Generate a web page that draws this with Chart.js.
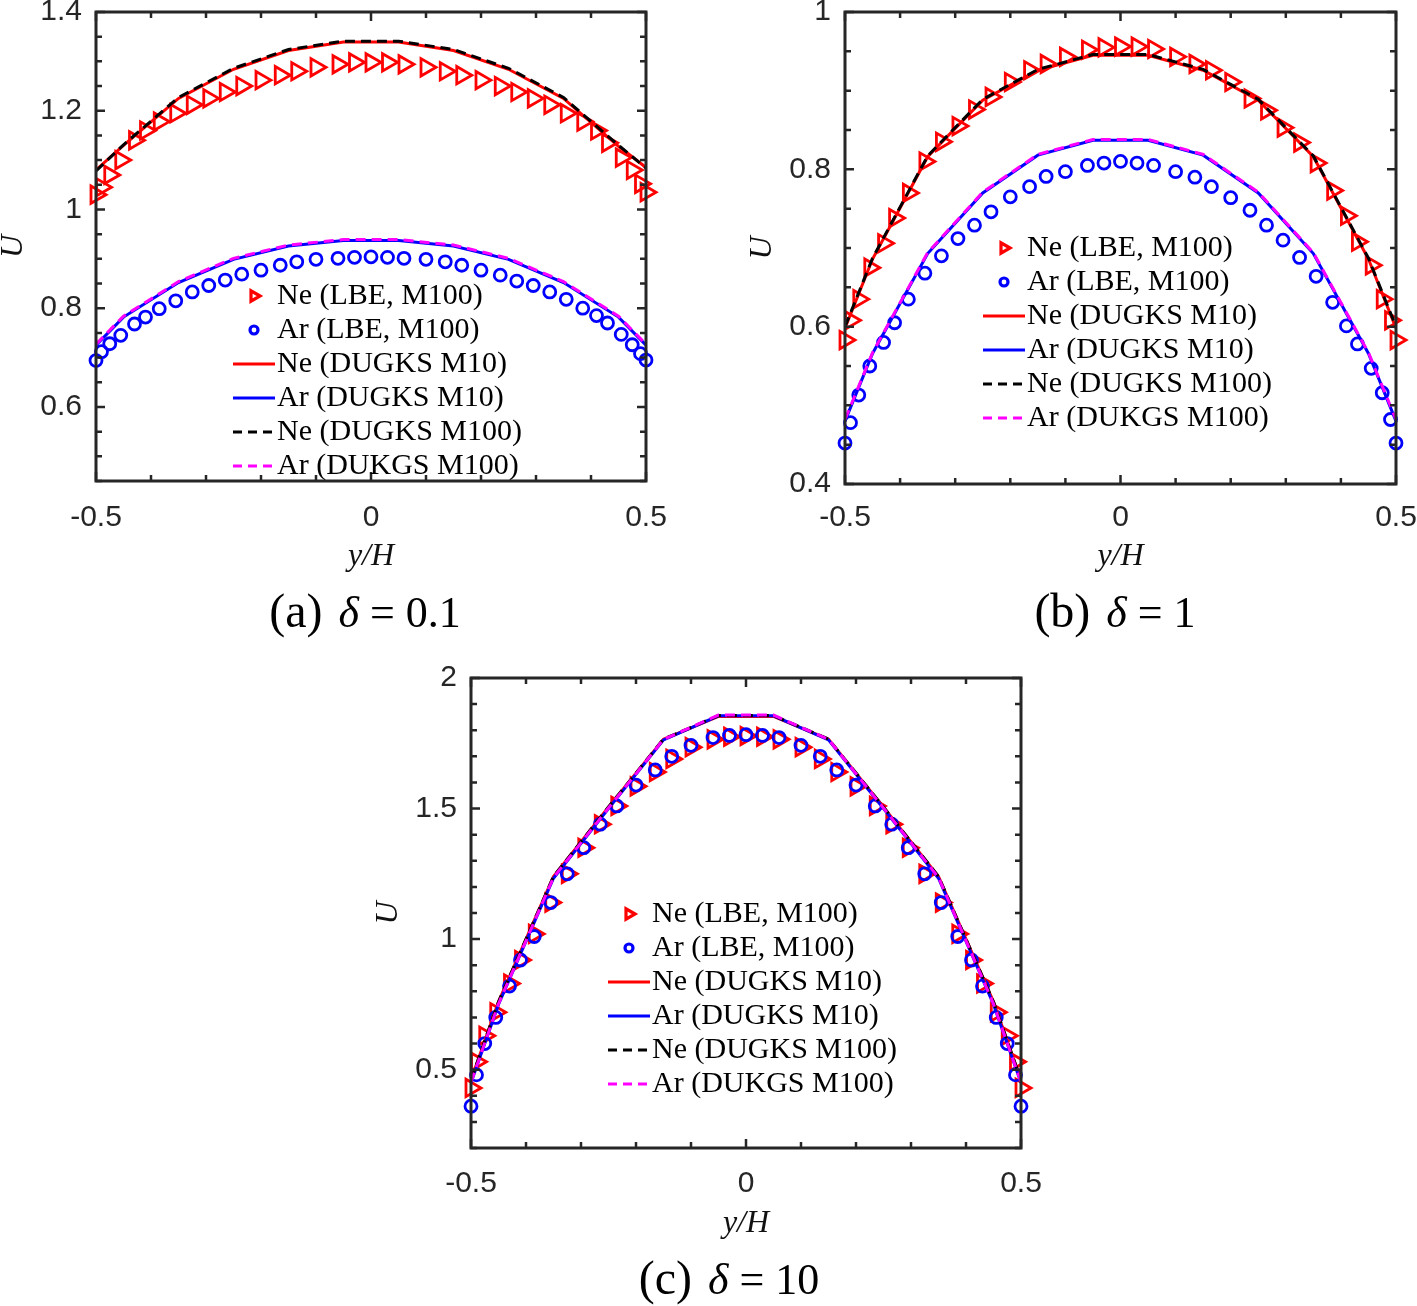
<!DOCTYPE html>
<html>
<head>
<meta charset="utf-8">
<script src="https://cdn.jsdelivr.net/npm/chart.js@4.4.1/dist/chart.umd.min.js"></script>
<style>
  body { margin: 0; background: #fff; }
  #fig { position: relative; width: 1417px; height: 1306px; overflow: hidden; background: #fff; }
  canvas { position: absolute; }
  .cap { position: absolute; font-family: 'Liberation Serif', serif; font-size: 44px; line-height: 50px; color: #000; white-space: nowrap; transform: translateX(-50%); }
  .cap .tag { font-size: 48px; margin-right: 16px; }
</style>
</head>
<body>
<div id="fig">
  <canvas id="chartA" width="700" height="630" style="left:0px;top:-30px"></canvas>
  <canvas id="chartB" width="700" height="630" style="left:749px;top:-30px"></canvas>
  <canvas id="chartC" width="700" height="620" style="left:375px;top:640px"></canvas>
  <div class="cap" style="left:365px;top:586px"><span class="tag">(a)</span><i>δ</i> = 0.1</div>
  <div class="cap" style="left:1115px;top:586px"><span class="tag">(b)</span><i>δ</i> = 1</div>
  <div class="cap" style="left:729px;top:1253px"><span class="tag">(c)</span><i>δ</i> = 10</div>
</div>
<script>
// x positions (y/H) of the LBE markers and of the DUGKS line nodes
const yLBE = [-0.5, -0.49, -0.475, -0.455, -0.43, -0.41, -0.385, -0.355, -0.325, -0.295, -0.265, -0.235, -0.2, -0.165, -0.135, -0.1, -0.06, -0.03, 0,
              0.03, 0.06, 0.1, 0.135, 0.165, 0.2, 0.235, 0.265, 0.295, 0.325, 0.355, 0.385, 0.41, 0.43, 0.455, 0.475, 0.49, 0.5];
const yDUGKS = [-0.5, -0.45, -0.35, -0.25, -0.15, -0.05, 0.05, 0.15, 0.25, 0.35, 0.45, 0.5];

// (a) delta = 0.1
const neLBE_a = [1.03, 1.045, 1.07, 1.10, 1.14, 1.16, 1.178, 1.195, 1.212, 1.225, 1.238, 1.25, 1.262, 1.272, 1.28, 1.288, 1.294, 1.298, 1.298,
                 1.298, 1.294, 1.288, 1.28, 1.272, 1.262, 1.25, 1.238, 1.225, 1.212, 1.195, 1.178, 1.16, 1.135, 1.105, 1.08, 1.052, 1.035];
const arLBE_a = [0.694, 0.712, 0.728, 0.745, 0.768, 0.782, 0.799, 0.815, 0.833, 0.846, 0.857, 0.869, 0.877, 0.887, 0.894, 0.899, 0.901, 0.903, 0.904,
                 0.903, 0.901, 0.899, 0.894, 0.887, 0.877, 0.867, 0.855, 0.846, 0.833, 0.818, 0.8, 0.785, 0.77, 0.747, 0.726, 0.708, 0.695];
const neM10_a = [1.08, 1.13, 1.225, 1.284, 1.322, 1.339, 1.339, 1.322, 1.284, 1.225, 1.128, 1.085];
const arM10_a = [0.725, 0.782, 0.852, 0.899, 0.926, 0.937, 0.937, 0.926, 0.899, 0.852, 0.782, 0.725];
const neM100_a = [1.078, 1.131, 1.227, 1.286, 1.324, 1.341, 1.341, 1.324, 1.286, 1.227, 1.13, 1.084];
const arM100_a = [0.727, 0.784, 0.854, 0.901, 0.928, 0.939, 0.939, 0.928, 0.901, 0.854, 0.784, 0.727];

// (b) delta = 1
const neLBE_b = [0.583, 0.608, 0.635, 0.675, 0.706, 0.738, 0.77, 0.81, 0.835, 0.855, 0.876, 0.892, 0.911, 0.926, 0.934, 0.943, 0.952, 0.955, 0.956,
                 0.956, 0.953, 0.943, 0.934, 0.926, 0.911, 0.89, 0.875, 0.853, 0.834, 0.808, 0.773, 0.741, 0.708, 0.678, 0.635, 0.608, 0.583];
const arLBE_b = [0.452, 0.478, 0.513, 0.55, 0.58, 0.605, 0.635, 0.668, 0.69, 0.712, 0.729, 0.746, 0.765, 0.778, 0.791, 0.797, 0.805, 0.808, 0.81,
                 0.808, 0.805, 0.797, 0.79, 0.778, 0.764, 0.748, 0.729, 0.71, 0.688, 0.664, 0.631, 0.601, 0.578, 0.547, 0.516, 0.482, 0.452];
const neM10_b = [0.598, 0.686, 0.816, 0.888, 0.926, 0.945, 0.945, 0.926, 0.888, 0.816, 0.686, 0.598];
const arM10_b = [0.48, 0.566, 0.693, 0.77, 0.818, 0.837, 0.837, 0.818, 0.77, 0.693, 0.566, 0.48];
const neM100_b = [0.6, 0.687, 0.817, 0.889, 0.927, 0.946, 0.946, 0.927, 0.889, 0.817, 0.687, 0.6];
const arM100_b = [0.482, 0.567, 0.694, 0.771, 0.819, 0.838, 0.838, 0.819, 0.771, 0.694, 0.567, 0.482];

// (c) delta = 10
const neLBE_c = [0.43, 0.53, 0.63, 0.72, 0.83, 0.92, 1.02, 1.14, 1.25, 1.35, 1.44, 1.51, 1.585, 1.64, 1.69, 1.735, 1.765, 1.775, 1.778,
                 1.775, 1.765, 1.735, 1.69, 1.64, 1.585, 1.51, 1.44, 1.35, 1.25, 1.14, 1.02, 0.92, 0.83, 0.72, 0.63, 0.53, 0.43];
const arLBE_c = [0.36, 0.48, 0.6, 0.7, 0.82, 0.92, 1.01, 1.14, 1.25, 1.35, 1.44, 1.51, 1.59, 1.648, 1.7, 1.742, 1.772, 1.78, 1.783,
                 1.78, 1.772, 1.742, 1.7, 1.648, 1.59, 1.51, 1.44, 1.35, 1.25, 1.14, 1.01, 0.92, 0.82, 0.7, 0.6, 0.48, 0.36];
const neM10_c = [0.46, 0.76, 1.24, 1.505, 1.765, 1.853, 1.853, 1.765, 1.505, 1.24, 0.76, 0.46];
const arM10_c = [0.45, 0.75, 1.233, 1.5, 1.763, 1.855, 1.855, 1.763, 1.5, 1.233, 0.75, 0.45];
const neM100_c = [0.46, 0.76, 1.24, 1.506, 1.766, 1.856, 1.856, 1.766, 1.506, 1.24, 0.76, 0.46];
const arM100_c = [0.452, 0.752, 1.236, 1.502, 1.765, 1.858, 1.858, 1.765, 1.502, 1.236, 0.752, 0.452];

const seriesLabels = ['Ne (LBE, M100)', 'Ar (LBE, M100)', 'Ne (DUGKS M10)', 'Ar (DUGKS M10)', 'Ne (DUGKS M100)', 'Ar (DUKGS M100)'];

const RED = '#ff0000', BLUE = '#0000ff', BLACK = '#000000', MAGENTA = '#ff00ff';
const AXIS = '#262626';
const TICK_FONT = {family: "'Liberation Sans', Arial, sans-serif", size: 30};
const TITLE_FONT = {family: "'Liberation Serif', serif", style: 'italic', size: 32, lineHeight: 1.2};

function pts(xs, ys) {
    return xs.map((x, i) => ({x: x, y: ys[i]}));
}

// same plotting order as the original: later series on top
function makeDatasets(neLBE, arLBE, neM10, arM10, neM100, arM100) {
    const marker = (data, style, color, r, order) => ({
        data: data, showLine: false, clip: false, order: order,
        pointStyle: style, pointRotation: style === 'triangle' ? 90 : 0,
        pointRadius: r, pointHoverRadius: r, pointBorderWidth: 2.8,
        pointBorderColor: color, pointBackgroundColor: 'rgba(0,0,0,0)', borderColor: color
    });
    const line = (data, color, dash, order) => ({
        data: data, showLine: true, pointRadius: 0, pointHoverRadius: 0, order: order,
        borderColor: color, borderWidth: 3, borderDash: dash, tension: 0, fill: false
    });
    const sets = [
        marker(pts(yLBE, neLBE), 'triangle', RED, 10, 6),
        marker(pts(yLBE, arLBE), 'circle', BLUE, 6, 5),
        line(pts(yDUGKS, neM10), RED, [], 4),
        line(pts(yDUGKS, arM10), BLUE, [], 3),
        line(pts(yDUGKS, neM100), BLACK, [10, 6], 2),
        line(pts(yDUGKS, arM100), MAGENTA, [10, 6], 1)
    ];
    sets.forEach((s, i) => { s.label = seriesLabels[i]; });
    return sets;
}

// box round the axes with inward ticks on all four sides
const boxPlugin = {
    id: 'boxPlugin',
    afterDatasetsDraw(chart) {
        const {ctx, chartArea: a, scales} = chart;
        ctx.save();
        ctx.strokeStyle = AXIS;
        ctx.lineWidth = 2.5;
        ctx.beginPath();
        scales.x.ticks.forEach((t, i) => {
            const px = scales.x.getPixelForTick(i);
            const len = t.label !== '' ? 9 : 6;
            ctx.moveTo(px, a.bottom); ctx.lineTo(px, a.bottom - len);
            ctx.moveTo(px, a.top); ctx.lineTo(px, a.top + len);
        });
        scales.y.ticks.forEach((t, i) => {
            const py = scales.y.getPixelForTick(i);
            const len = t.label !== '' ? 9 : 6;
            ctx.moveTo(a.left, py); ctx.lineTo(a.left + len, py);
            ctx.moveTo(a.right, py); ctx.lineTo(a.right - len, py);
        });
        ctx.stroke();
        ctx.lineWidth = 3;
        ctx.strokeRect(a.left, a.top, a.right - a.left, a.bottom - a.top);
        ctx.restore();
    }
};

// legend inside the axes, drawn from the datasets themselves
const legendPlugin = {
    id: 'inLegend',
    afterDraw(chart, args, opts) {
        const {ctx, chartArea: a} = chart;
        const x0 = a.left + opts.dx;
        let y = a.top + opts.dy;
        ctx.save();
        chart.data.datasets.forEach(ds => {
            if (ds.showLine === false) {
                const cx = x0 + 21;
                ctx.strokeStyle = ds.pointBorderColor;
                ctx.lineWidth = 3.2;
                ctx.beginPath();
                if (ds.pointStyle === 'triangle') {
                    const r = 6;
                    ctx.moveTo(cx + r, y);
                    ctx.lineTo(cx - r / 2, y - r * 0.866);
                    ctx.lineTo(cx - r / 2, y + r * 0.866);
                    ctx.closePath();
                } else {
                    ctx.arc(cx, y, 4, 0, Math.PI * 2);
                }
                ctx.stroke();
            } else {
                ctx.strokeStyle = ds.borderColor;
                ctx.lineWidth = 3;
                ctx.setLineDash(ds.borderDash.length ? [9, 6] : []);
                ctx.beginPath();
                ctx.moveTo(x0, y);
                ctx.lineTo(x0 + 42, y);
                ctx.stroke();
                ctx.setLineDash([]);
            }
            ctx.fillStyle = '#000';
            ctx.font = "30px 'Liberation Serif', serif";
            ctx.textAlign = 'left';
            ctx.textBaseline = 'middle';
            ctx.fillText(ds.label, x0 + 44, y);
            y += 34;
        });
        ctx.restore();
    }
};

function isMajor(v, step) {
    const r = v / step;
    return Math.abs(r - Math.round(r)) < 1e-6;
}

function buildChart(id, p) {
    return new Chart(document.getElementById(id), {
        type: 'scatter',
        data: {datasets: p.datasets},
        options: {
            responsive: false,
            animation: false,
            devicePixelRatio: 1,
            layout: {autoPadding: false, padding: p.pad},
            plugins: {
                legend: {display: false},
                tooltip: {enabled: false},
                inLegend: {dx: p.legX, dy: p.legY}
            },
            scales: {
                x: {
                    type: 'linear', position: 'bottom', min: -0.5, max: 0.5,
                    grid: {display: false}, border: {display: false},
                    ticks: {
                        stepSize: 0.1, autoSkip: false, maxRotation: 0, padding: p.xTickPad,
                        color: AXIS, font: TICK_FONT,
                        callback: v => isMajor(v, 0.5) ? String(Math.round(v * 10) / 10) : ''
                    },
                    title: {display: true, text: 'y/H', color: '#111', font: TITLE_FONT, padding: {top: 0, bottom: p.xTitlePad}},
                    afterFit: s => { s.height = 100; }
                },
                y: {
                    type: 'linear', position: 'left', min: p.yMin, max: p.yMax,
                    grid: {display: false}, border: {display: false},
                    ticks: {
                        stepSize: p.yStep, autoSkip: false, padding: 6,
                        color: AXIS, font: TICK_FONT,
                        callback: v => isMajor(v, p.yMajor) ? String(Math.round(v * 100) / 100) : ''
                    },
                    title: {display: true, text: 'U', color: '#111', font: Object.assign({}, TITLE_FONT, {lineHeight: 1}), padding: {top: -2, bottom: 0}},
                    afterFit: s => { s.width = 96; }
                }
            }
        },
        plugins: [boxPlugin, legendPlugin]
    });
}

buildChart('chartA', {
    datasets: makeDatasets(neLBE_a, arLBE_a, neM10_a, arM10_a, neM100_a, arM100_a),
    pad: {top: 42, right: 54, bottom: 19, left: 0},
    yMin: 0.45, yMax: 1.4, yStep: 0.05, yMajor: 0.2,
    xTickPad: 11, xTitlePad: 5, legX: 137, legY: 284
});

buildChart('chartB', {
    datasets: makeDatasets(neLBE_b, arLBE_b, neM10_b, arM10_b, neM100_b, arM100_b),
    pad: {top: 42, right: 53, bottom: 16, left: 0},
    yMin: 0.4, yMax: 1, yStep: 0.05, yMajor: 0.2,
    xTickPad: 8, xTitlePad: 8, legX: 138, legY: 236
});

buildChart('chartC', {
    datasets: makeDatasets(neLBE_c, arLBE_c, neM10_c, arM10_c, neM100_c, arM100_c),
    pad: {top: 38, right: 54, bottom: 12, left: 0},
    yMin: 0.2, yMax: 2, yStep: 0.1, yMajor: 0.5,
    xTickPad: 10, xTitlePad: 5, legX: 137, legY: 236
});
</script>
</body>
</html>
